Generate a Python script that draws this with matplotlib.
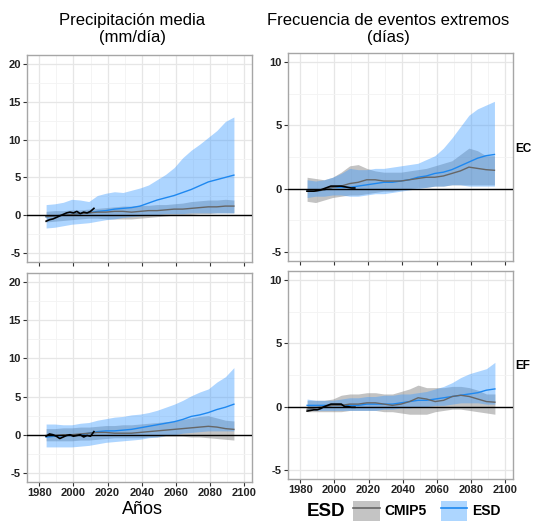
import matplotlib
matplotlib.use("Agg")
import matplotlib.pyplot as plt
from matplotlib.ticker import MultipleLocator
from matplotlib.patches import Patch
from matplotlib.lines import Line2D
import numpy as np

plt.rcParams['font.family'] = ['Liberation Sans', 'DejaVu Sans']
plt.rcParams['axes.unicode_minus'] = False

years = [1984, 1989, 1994, 1999, 2004, 2009, 2014, 2019, 2024, 2029, 2034, 2039,
         2044, 2049, 2054, 2059, 2064, 2069, 2074, 2079, 2084, 2089, 2094]
obs_years = [1984, 1986, 1988, 1990, 1992, 1994, 1996, 1998, 2000, 2002, 2004,
             2006, 2008, 2010, 2012]

# Precipitación media - EC
pr_ec_esd_hi = [1.4,1.5,1.7,2.1,2.0,1.8,2.6,2.9,3.1,3.0,3.3,3.6,4.0,4.7,5.4,6.3,7.6,8.6,9.4,10.3,11.2,12.4,13.0]
pr_ec_esd_mid = [-0.2,-0.1,0.0,0.1,0.2,0.3,0.5,0.6,0.8,0.9,1.0,1.2,1.6,2.0,2.3,2.6,3.0,3.4,3.9,4.4,4.7,5.0,5.3]
pr_ec_esd_lo = [-1.7,-1.6,-1.4,-1.2,-1.1,-1.0,-0.8,-0.6,-0.5,-0.3,-0.2,-0.1,0.0,0.1,0.2,0.2,0.2,0.3,0.3,0.3,0.3,0.3,0.3]
pr_ec_cm_hi = [0.5,0.6,0.6,0.7,0.7,0.8,0.9,1.0,1.1,1.2,1.2,1.3,1.3,1.4,1.4,1.5,1.6,1.8,1.9,2.0,2.0,2.1,2.0]
pr_ec_cm_mid = [-0.2,-0.1,0.0,0.1,0.2,0.3,0.4,0.4,0.5,0.5,0.4,0.5,0.6,0.6,0.7,0.8,0.8,0.9,1.0,1.1,1.1,1.2,1.2]
pr_ec_cm_lo = [-0.9,-0.8,-0.7,-0.6,-0.5,-0.4,-0.4,-0.5,-0.5,-0.5,-0.5,-0.4,-0.3,-0.2,-0.1,0.0,0.0,0.1,0.2,0.2,0.3,0.3,0.3]
pr_ec_obs = [-0.8,-0.6,-0.5,-0.3,-0.1,0.1,0.3,0.4,0.3,0.5,0.2,0.4,0.3,0.5,0.9]

# Frecuencia de eventos extremos - EC
fr_ec_esd_hi = [0.7,0.6,0.7,0.9,1.2,1.6,1.5,1.5,1.6,1.6,1.7,1.8,1.9,2.0,2.3,2.6,3.2,4.0,4.9,5.8,6.3,6.6,6.9]
fr_ec_esd_mid = [-0.2,-0.2,-0.1,0.1,0.1,0.1,0.2,0.3,0.4,0.5,0.5,0.6,0.7,0.9,1.0,1.2,1.3,1.5,1.8,2.1,2.4,2.6,2.7]
fr_ec_esd_lo = [-0.7,-0.6,-0.6,-0.5,-0.5,-0.6,-0.6,-0.5,-0.4,-0.4,-0.3,-0.2,-0.1,0.0,0.1,0.2,0.2,0.3,0.3,0.2,0.2,0.2,0.2]
fr_ec_cm_hi = [0.9,0.8,0.7,0.9,1.3,1.8,1.9,1.6,1.4,1.3,1.3,1.3,1.4,1.5,1.6,1.8,2.0,2.2,2.7,3.2,3.0,2.6,2.6]
fr_ec_cm_mid = [-0.2,-0.2,-0.1,0.1,0.2,0.4,0.5,0.7,0.7,0.6,0.6,0.6,0.7,0.8,0.9,0.9,1.0,1.2,1.4,1.7,1.6,1.5,1.45]
fr_ec_cm_lo = [-1.0,-1.1,-0.9,-0.7,-0.6,-0.5,-0.5,-0.4,-0.3,-0.2,-0.2,-0.1,0.0,0.1,0.1,0.2,0.2,0.3,0.3,0.3,0.3,0.3,0.3]
fr_ec_obs = [-0.2,-0.2,-0.2,-0.15,-0.1,0.0,0.1,0.2,0.2,0.2,0.2,0.15,0.1,0.05,0.05]

# Precipitación media - EF
pr_ef_esd_hi = [1.4,1.4,1.3,1.3,1.5,1.6,1.9,2.1,2.3,2.4,2.6,2.7,2.9,3.2,3.6,4.0,4.5,5.1,5.6,6.0,6.9,7.6,8.8]
pr_ef_esd_mid = [-0.3,-0.2,-0.1,-0.1,0.0,0.2,0.4,0.5,0.5,0.6,0.7,0.9,1.1,1.3,1.5,1.7,2.0,2.4,2.6,2.9,3.3,3.6,4.0]
pr_ef_esd_lo = [-1.6,-1.6,-1.6,-1.6,-1.5,-1.4,-1.2,-1.0,-0.9,-0.8,-0.7,-0.6,-0.4,-0.3,-0.1,0.0,0.2,0.3,0.4,0.5,0.5,0.5,0.5]
pr_ef_cm_hi = [0.8,0.8,0.9,0.9,1.0,1.0,1.1,1.2,1.2,1.3,1.3,1.4,1.5,1.6,1.7,1.8,2.0,2.2,2.4,2.5,2.2,1.9,1.8]
pr_ef_cm_mid = [-0.1,-0.1,0.0,0.0,0.1,0.2,0.3,0.3,0.2,0.2,0.2,0.3,0.4,0.5,0.6,0.7,0.8,0.9,1.0,1.1,1.0,0.8,0.7]
pr_ef_cm_lo = [-0.8,-0.8,-0.8,-0.8,-0.7,-0.7,-0.6,-0.5,-0.4,-0.4,-0.4,-0.4,-0.3,-0.3,-0.2,-0.2,-0.2,-0.3,-0.3,-0.4,-0.5,-0.6,-0.7]
pr_ef_obs = [-0.2,0.1,0.0,-0.2,-0.5,-0.3,-0.1,0.0,-0.2,-0.1,0.0,-0.3,-0.1,-0.2,0.4]

# Frecuencia de eventos extremos - EF
fr_ef_esd_hi = [0.6,0.5,0.5,0.5,0.6,0.7,0.7,0.8,0.8,0.9,0.9,1.0,1.0,1.1,1.2,1.4,1.6,1.9,2.3,2.6,2.8,3.0,3.5]
fr_ef_esd_mid = [0.1,0.1,0.1,0.1,0.1,0.1,0.1,0.2,0.2,0.2,0.2,0.3,0.4,0.5,0.5,0.6,0.7,0.8,0.9,1.0,1.1,1.3,1.4]
fr_ef_esd_lo = [-0.3,-0.3,-0.3,-0.3,-0.3,-0.3,-0.3,-0.3,-0.3,-0.2,-0.2,-0.1,-0.1,0.0,0.0,0.1,0.1,0.2,0.3,0.3,0.3,0.2,0.2]
fr_ef_cm_hi = [0.5,0.5,0.5,0.6,0.9,1.0,1.0,1.1,1.1,1.0,1.0,1.2,1.4,1.7,1.5,1.5,1.5,1.6,1.6,1.5,1.3,1.0,1.0]
fr_ef_cm_mid = [-0.2,-0.1,0.0,0.1,0.1,0.2,0.2,0.3,0.3,0.2,0.1,0.2,0.4,0.7,0.6,0.4,0.5,0.8,0.9,0.8,0.6,0.4,0.35]
fr_ef_cm_lo = [-0.4,-0.4,-0.4,-0.4,-0.4,-0.3,-0.3,-0.3,-0.3,-0.4,-0.4,-0.5,-0.6,-0.6,-0.6,-0.4,-0.3,-0.2,-0.2,-0.3,-0.4,-0.5,-0.6]
fr_ef_obs = [-0.35,-0.3,-0.25,-0.25,-0.15,0.0,0.1,0.2,0.2,0.2,0.2,0.0,0.0,-0.05,-0.05]

col_titles = ["Precipitación media\n(mm/día)", "Frecuencia de eventos extremos\n(días)"]
row_labels = ["EC", "EF"]
x_label = "Años"
legend_title = "ESD"
legend_labels = ["CMIP5", "ESD"]

BLUE_FILL = '#3d9bff'
BLUE_LINE = '#1e88f0'
GREY_FILL = '#7a7a7a'
GREY_LINE = '#666666'

W, H = 534, 521
fig = plt.figure(figsize=(W / 100, H / 100), dpi=100)

def ax_rect(l, r, t, b):
    return [l / W, 1 - b / H, (r - l) / W, (b - t) / H]

rects = {
    (0, 0): ax_rect(27, 252, 55, 262),
    (0, 1): ax_rect(288, 512.5, 53, 261),
    (1, 0): ax_rect(27, 252, 273, 482),
    (1, 1): ax_rect(288, 513, 271, 479),
}

panels = {
    (0, 0): (pr_ec_esd_hi, pr_ec_esd_mid, pr_ec_esd_lo, pr_ec_cm_hi, pr_ec_cm_mid, pr_ec_cm_lo, pr_ec_obs),
    (0, 1): (fr_ec_esd_hi, fr_ec_esd_mid, fr_ec_esd_lo, fr_ec_cm_hi, fr_ec_cm_mid, fr_ec_cm_lo, fr_ec_obs),
    (1, 0): (pr_ef_esd_hi, pr_ef_esd_mid, pr_ef_esd_lo, pr_ef_cm_hi, pr_ef_cm_mid, pr_ef_cm_lo, pr_ef_obs),
    (1, 1): (fr_ef_esd_hi, fr_ef_esd_mid, fr_ef_esd_lo, fr_ef_cm_hi, fr_ef_cm_mid, fr_ef_cm_lo, fr_ef_obs),
}

for (r, c), rect in rects.items():
    ax = fig.add_axes(rect)
    ehi, emid, elo, chi, cmid, clo, obs = panels[(r, c)]
    ax.fill_between(years, clo, chi, color=GREY_FILL, alpha=0.45, lw=0, zorder=2)
    ax.fill_between(years, elo, ehi, color=BLUE_FILL, alpha=0.42, lw=0, zorder=3)
    ax.plot(years, emid, color=BLUE_LINE, lw=1.0, zorder=4)
    ax.plot(years, cmid, color=GREY_LINE, lw=1.0, zorder=5)
    ax.axhline(0, color='black', lw=1.0, zorder=6)
    ax.plot(obs_years, obs, color='black', lw=1.2, zorder=7)

    ax.set_xlim(1972.8, 2104.6)
    ax.xaxis.set_major_locator(MultipleLocator(20))
    ax.xaxis.set_minor_locator(MultipleLocator(10))
    if c == 0:
        ax.set_ylim(-6.2, 21.2)
    else:
        ax.set_ylim(-5.72, 10.72)
    ax.yaxis.set_major_locator(MultipleLocator(5))
    ax.yaxis.set_minor_locator(MultipleLocator(2.5))

    ax.grid(True, which='major', color='#e6e6e6', lw=0.9, zorder=0)
    ax.grid(True, which='minor', color='#f3f3f3', lw=0.6, zorder=0)
    ax.set_axisbelow(True)
    for s in ax.spines.values():
        s.set_color('#a6a6a6')
        s.set_linewidth(1.0)
    ax.tick_params(which='major', length=3, width=0.8, color='#333333',
                   labelsize=8, labelcolor='#222222', pad=1.5)
    ax.tick_params(which='minor', length=0)
    for lab in ax.get_xticklabels() + ax.get_yticklabels():
        lab.set_fontweight('bold')
    if r == 0:
        ax.tick_params(axis='x', labelbottom=False)

fig.text(132 / W, 1 - 29 / H, col_titles[0], ha='center', va='center',
         fontsize=12, linespacing=1.1)
fig.text(388 / W, 1 - 29 / H, col_titles[1], ha='center', va='center',
         fontsize=12, linespacing=1.1)
fig.text(523 / W, 1 - 149 / H, row_labels[0], ha='center', va='center',
         fontsize=8.5, fontweight='bold')
fig.text(523 / W, 1 - 366 / H, row_labels[1], ha='center', va='center',
         fontsize=8.5, fontweight='bold')
fig.text(142 / W, 1 - 509 / H, x_label, ha='center', va='center', fontsize=13)

fig.text(326 / W, 1 - 511 / H, legend_title, ha='center', va='center',
         fontsize=13.5, fontweight='bold')
handles = [
    (Patch(facecolor='#c4c4c4', edgecolor='none'), Line2D([], [], color=GREY_LINE, lw=1.2)),
    (Patch(facecolor='#add6ff', edgecolor='none'), Line2D([], [], color=BLUE_LINE, lw=1.2)),
]
leg = fig.legend(handles, legend_labels, ncol=2, loc='center left',
                 bbox_to_anchor=(352 / W, 1 - 511 / H), frameon=False,
                 handlelength=1.9, handleheight=1.75, handletextpad=0.35,
                 columnspacing=1.0, borderpad=0.1, borderaxespad=0,
                 prop={'size': 10, 'weight': 'bold'})

fig.savefig('out.png', dpi=100)
